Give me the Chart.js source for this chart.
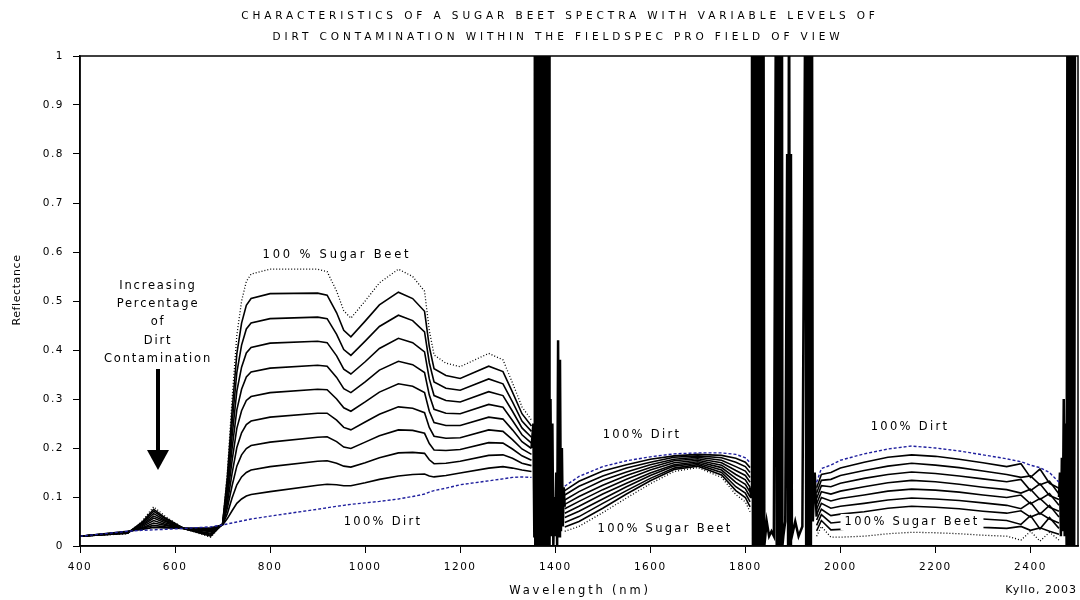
<!DOCTYPE html>
<html>
<head>
<meta charset="utf-8">
<script src="https://cdn.jsdelivr.net/npm/chart.js@4"></script>
<style>
  html, body { margin: 0; padding: 0; background: #fff; }
  canvas { display: block; }
</style>
</head>
<body>
<canvas id="myChart" width="1080" height="600"></canvas>
<script>
// wavelengths (nm); null rows break the curves at the water bands
const wavelengths = [400,500,530,555,580,620,675,700,710,720,730,740,750,760,800,900,920,940,955,970,
  1000,1030,1070,1100,1125,1135,1145,1170,1200,1260,1290,1310,1330,1350,
  1385,
  1420,1450,1500,1550,1600,1650,1700,1750,1780,1800,1810,
  1880,
  1950,1960,1980,2000,2050,2100,2150,2200,2250,2300,2350,2380,2400,2420,2440,2460];

const beet100 = [.020,.025,.050,.080,.060,.035,.018,.045,.150,.300,.430,.500,.540,.555,.565,.565,.560,.520,.480,.465,
  .500,.537,.565,.550,.520,.440,.390,.373,.366,.393,.380,.333,.284,.257,
  null,
  .030,.040,.068,.098,.127,.152,.160,.140,.105,.090,.070,
  null,
  .020,.040,.018,.018,.020,.025,.028,.027,.025,.022,.020,.012,.030,.010,.028,.012];

const mix10 = [.020,.026,.048,.075,.057,.035,.020,.045,.140,.275,.392,.455,.491,.505,.515,.516,.512,.476,.440,.427,
  .459,.492,.518,.505,.479,.407,.362,.348,.342,.367,.356,.314,.270,.245,
  null,
  .039,.050,.077,.106,.133,.156,.163,.145,.113,.099,.080,
  null,
  .031,.052,.033,.034,.037,.042,.046,.044,.042,.038,.036,.040,.032,.037,.030,.024];

const mix20 = [.020,.026,.046,.071,.055,.035,.022,.045,.129,.249,.354,.410,.443,.455,.464,.467,.464,.432,.401,.389,
  .418,.448,.471,.460,.437,.374,.335,.322,.318,.341,.331,.294,.255,.234,
  null,
  .048,.060,.087,.113,.138,.159,.166,.150,.121,.108,.090,
  null,
  .042,.064,.047,.049,.054,.060,.063,.062,.059,.055,.052,.044,.062,.035,.058,.036];

const mix30 = [.020,.027,.045,.066,.052,.035,.024,.044,.119,.224,.316,.365,.394,.405,.414,.418,.415,.388,.361,.351,
  .376,.403,.424,.415,.396,.341,.307,.297,.294,.315,.307,.275,.241,.222,
  null,
  .058,.071,.096,.121,.144,.163,.169,.155,.130,.117,.100,
  null,
  .053,.075,.062,.065,.070,.077,.081,.079,.076,.071,.067,.072,.059,.067,.055,.047];

const mix40 = [.020,.027,.043,.061,.050,.035,.026,.044,.108,.199,.278,.320,.345,.355,.363,.369,.367,.344,.321,.313,
  .335,.359,.377,.370,.354,.308,.279,.271,.270,.289,.283,.256,.227,.210,
  null,
  .067,.081,.106,.128,.149,.166,.172,.160,.138,.126,.110,
  null,
  .064,.087,.077,.081,.087,.094,.098,.096,.093,.088,.083,.076,.089,.065,.083,.059];

const mix50 = [.020,.028,.041,.057,.047,.036,.029,.044,.098,.174,.240,.276,.297,.305,.313,.320,.319,.300,.282,.275,
  .294,.314,.331,.326,.313,.275,.252,.246,.246,.263,.259,.237,.213,.199,
  null,
  .076,.091,.115,.136,.155,.170,.175,.165,.146,.135,.120,
  null,
  .075,.099,.092,.097,.104,.112,.116,.114,.110,.104,.099,.104,.086,.097,.079,.071];

const mix60 = [.020,.028,.039,.052,.044,.036,.031,.044,.087,.148,.201,.231,.248,.255,.263,.271,.271,.257,.242,.237,
  .253,.269,.284,.281,.272,.242,.224,.220,.221,.237,.234,.217,.198,.187,
  null,
  .085,.101,.124,.144,.160,.174,.178,.170,.154,.144,.130,
  null,
  .086,.111,.106,.112,.121,.129,.134,.131,.126,.120,.115,.108,.116,.095,.107,.083];

const mix70 = [.020,.029,.037,.047,.042,.036,.033,.044,.077,.123,.163,.186,.199,.205,.212,.222,.223,.213,.202,.199,
  .212,.225,.237,.236,.230,.209,.196,.195,.197,.211,.210,.198,.184,.175,
  null,
  .094,.111,.134,.151,.166,.177,.181,.175,.162,.153,.140,
  null,
  .097,.123,.121,.128,.138,.146,.151,.148,.143,.137,.131,.136,.113,.127,.103,.095];

const mix80 = [.020,.029,.036,.042,.039,.036,.035,.043,.066,.098,.125,.141,.150,.155,.162,.173,.174,.169,.163,.161,
  .170,.180,.190,.191,.189,.176,.168,.169,.173,.185,.186,.179,.169,.164,
  null,
  .104,.122,.143,.159,.171,.181,.184,.180,.171,.162,.150,
  null,
  .108,.134,.136,.144,.154,.163,.169,.165,.160,.153,.146,.140,.143,.125,.132,.106];

const mix90 = [.020,.030,.034,.038,.037,.036,.037,.043,.056,.072,.087,.096,.102,.105,.111,.124,.126,.125,.123,.123,
  .129,.136,.143,.146,.147,.143,.141,.144,.149,.159,.162,.159,.155,.152,
  null,
  .113,.132,.153,.166,.177,.184,.187,.185,.179,.171,.160,
  null,
  .119,.146,.150,.159,.171,.181,.186,.183,.177,.170,.162,.168,.140,.157,.128,.118];

const dirt100 = [.020,.030,.032,.033,.034,.036,.039,.043,.045,.047,.049,.051,.053,.055,.061,.075,.078,.081,.083,.085,
  .088,.091,.096,.101,.106,.110,.113,.118,.125,.133,.137,.140,.141,.140,
  null,
  .122,.142,.162,.174,.182,.188,.190,.190,.187,.180,.170,
  null,
  .130,.158,.165,.175,.188,.198,.204,.200,.194,.186,.178,.172,.165,.160,.150,.130];

// noisy water absorption bands (values above 1 run off the top of the plot)
const band1X = [1350,1354,1356,1357,1358,1359,1360,1361,1362,1363,1364,1365,1366,1367,1368,1369,1370,1371,1372,1373,1374,1375,1376,1377,1378,1379,1380,1381,1382,1383,1384,1385,1386,1387,1388,1390,1392,1394,1396,1398,1400,1402,1404,1406,1408,1410,1412,1414,1416,1418,1420];
const band1Y = [0.2,0.25,0.02,1.3,0.0,1.3,0.0,1.3,0.0,1.3,0.1,1.3,0.0,1.3,0.0,1.3,0.0,1.3,0.05,1.3,0.0,1.3,0.0,1.3,0.0,1.3,0.0,1.3,0.0,1.3,0.05,1.3,0.0,1.3,0.0,0.3,0.02,0.25,0.0,0.1,0.02,0.15,0.0,0.42,0.02,0.38,0.03,0.2,0.04,0.12,0.08];
const band2X = [1810,1812,1814,1816,1818,1820,1822,1824,1826,1828,1830,1832,1834,1836,1838,1840,1845,1850,1855,1860,1865,1866,1867,1868,1869,1870,1871,1872,1873,1874,1875,1876,1877,1878,1880,1884,1888,1890,1892,1894,1896,1898,1905,1912,1920,1927,1928,1929,1930,1931,1932,1933,1934,1935,1936,1937,1938,1940,1942,1946,1950];
const band2Y = [0.12,0.1,1.3,0.0,1.3,0.0,1.3,0.0,1.3,0.0,1.3,0.0,1.3,0.0,1.3,0.0,0.05,0.02,0.03,0.02,1.3,0.0,1.3,0.0,1.3,0.0,1.3,0.0,1.3,0.0,1.3,0.0,1.3,0.0,0.02,0.05,0.8,0.0,1.3,0.0,0.8,0.02,0.05,0.02,0.04,1.3,0.0,1.3,0.0,1.3,0.0,1.3,0.0,1.3,0.0,1.3,0.0,1.3,0.05,0.15,0.06];
const band3X = [2460,2462,2464,2466,2468,2470,2472,2474,2476,2478,2479,2480,2481,2482,2483,2484,2485,2486,2487,2488,2489,2490,2492,2494];
const band3Y = [0.1,0.15,0.02,0.18,0.03,0.3,0.02,0.25,0.0,1.3,0.0,1.3,0.0,1.3,0.0,1.3,0.0,1.3,0.0,1.3,0.0,1.3,0.0,1.3];

const BLUE = '#1f1f9e';
const curves = [
  { label: '100% Dirt', values: dirt100, color: BLUE, dash: [3, 2], width: 1.4 },
  { label: '10% Sugar Beet', values: mix90, color: '#000', dash: [], width: 1.6 },
  { label: '20% Sugar Beet', values: mix80, color: '#000', dash: [], width: 1.6 },
  { label: '30% Sugar Beet', values: mix70, color: '#000', dash: [], width: 1.6 },
  { label: '40% Sugar Beet', values: mix60, color: '#000', dash: [], width: 1.6 },
  { label: '50% Sugar Beet', values: mix50, color: '#000', dash: [], width: 1.6 },
  { label: '60% Sugar Beet', values: mix40, color: '#000', dash: [], width: 1.6 },
  { label: '70% Sugar Beet', values: mix30, color: '#000', dash: [], width: 1.6 },
  { label: '80% Sugar Beet', values: mix20, color: '#000', dash: [], width: 1.6 },
  { label: '90% Sugar Beet', values: mix10, color: '#000', dash: [], width: 1.6 },
  { label: '100% Sugar Beet', values: beet100, color: '#000', dash: [1, 2], width: 1.3 }
];

const datasets = curves.map(c => ({
  label: c.label,
  data: wavelengths.map((w, i) => ({ x: w, y: c.values[i] })),
  borderColor: c.color,
  borderWidth: c.width,
  borderDash: c.dash,
  pointRadius: 0,
  tension: 0,
  spanGaps: false,
  fill: false
}));
[[band1X, band1Y], [band2X, band2Y], [band3X, band3Y]].forEach(b => {
  datasets.push({
    label: 'water band',
    data: b[0].map((w, i) => ({ x: w, y: b[1][i] })),
    borderColor: '#000',
    borderWidth: 2.5,
    pointRadius: 0,
    tension: 0,
    fill: false
  });
});

function txt(ctx, s, x, y, size, spacing, align, bg) {
  ctx.save();
  ctx.font = size + 'px "DejaVu Sans", sans-serif';
  ctx.letterSpacing = spacing + 'px';
  ctx.textAlign = align || 'center';
  ctx.textBaseline = 'middle';
  if (bg) {
    const w = ctx.measureText(s).width;
    const left = align === 'left' ? x : x - w / 2;
    ctx.fillStyle = '#fff';
    ctx.fillRect(left - 4, y - size * 0.7, w + 8, size * 1.4);
  }
  ctx.fillStyle = '#000';
  ctx.fillText(s, x, y);
  ctx.restore();
}

const decor = {
  id: 'decor',
  beforeDraw(chart) {
    chart.ctx.letterSpacing = '1.5px';
  },
  afterDatasetsDraw(chart) {
    const ctx = chart.ctx;
    const a = chart.chartArea;
    // labels inside the plot
    txt(ctx, 'Increasing', 158, 286, 11.5, 1.8);
    txt(ctx, 'Percentage', 158, 304, 11.5, 1.8);
    txt(ctx, 'of', 158, 322, 11.5, 1.8);
    txt(ctx, 'Dirt', 158, 341, 11.5, 1.8);
    txt(ctx, 'Contamination', 158, 359, 11.5, 1.8);
    ctx.save();
    ctx.fillStyle = '#000';
    ctx.fillRect(156, 369, 4, 84);
    ctx.beginPath();
    ctx.moveTo(147, 450); ctx.lineTo(169, 450); ctx.lineTo(158, 470); ctx.closePath();
    ctx.fill();
    ctx.restore();
    txt(ctx, '100 % Sugar Beet', 337, 255, 11.5, 2.8);
    txt(ctx, '100% Dirt', 383, 522, 11.5, 2.3);
    txt(ctx, '100% Dirt', 642, 435, 11.5, 2.3);
    txt(ctx, '100% Sugar Beet', 665, 529, 11.5, 2.3, 'center', true);
    txt(ctx, '100% Dirt', 910, 427, 11.5, 2.3);
    txt(ctx, '100% Sugar Beet', 912, 522, 11.5, 2.3, 'center', true);
    // frame
    ctx.save();
    ctx.strokeStyle = '#000';
    ctx.lineWidth = 1.5;
    ctx.strokeRect(a.left, a.top, a.right - a.left, a.bottom - a.top);
    ctx.restore();
  },
  afterDraw(chart) {
    const ctx = chart.ctx;
    txt(ctx, 'CHARACTERISTICS OF A SUGAR BEET SPECTRA WITH VARIABLE LEVELS OF', 560, 16, 10.5, 3.9);
    txt(ctx, 'DIRT CONTAMINATION WITHIN THE FIELDSPEC PRO FIELD OF VIEW', 558, 37, 10.5, 3.9);
    txt(ctx, 'Wavelength (nm)', 580, 591, 11.5, 2.8);
    txt(ctx, 'Kyllo, 2003', 1077, 590, 11, 1, 'right');
    ctx.save();
    ctx.translate(17, 290);
    ctx.rotate(-Math.PI / 2);
    txt(ctx, 'Reflectance', 0, 0, 11, 0.6);
    ctx.restore();
  }
};

const tickFont = { family: '"DejaVu Sans", sans-serif', size: 10.5 };

new Chart(document.getElementById('myChart'), {
  type: 'line',
  data: { datasets: datasets },
  options: {
    responsive: false,
    animation: false,
    layout: { padding: { top: 56, right: 2, left: 0, bottom: 0 } },
    plugins: { legend: { display: false }, title: { display: false }, tooltip: { enabled: false } },
    scales: {
      x: {
        type: 'linear',
        min: 400,
        max: 2500,
        grid: { drawOnChartArea: false, color: '#000', tickLength: 7 },
        border: { color: '#000', width: 1.5 },
        ticks: {
          stepSize: 200, includeBounds: false, color: '#000', font: tickFont, padding: 8, maxRotation: 0,
          callback: v => String(v)
        },
        afterFit(scale) { scale.height = 54; }
      },
      y: {
        min: 0,
        max: 1,
        grid: { drawOnChartArea: false, color: '#000', tickLength: 7 },
        border: { color: '#000', width: 1.5 },
        ticks: {
          stepSize: 0.1, color: '#000', font: tickFont, padding: 9,
          callback: v => (v === 0 || v === 1) ? String(v) : v.toFixed(1)
        },
        afterFit(scale) { scale.width = 80; }
      }
    }
  },
  plugins: [decor]
});
</script>
</body>
</html>
